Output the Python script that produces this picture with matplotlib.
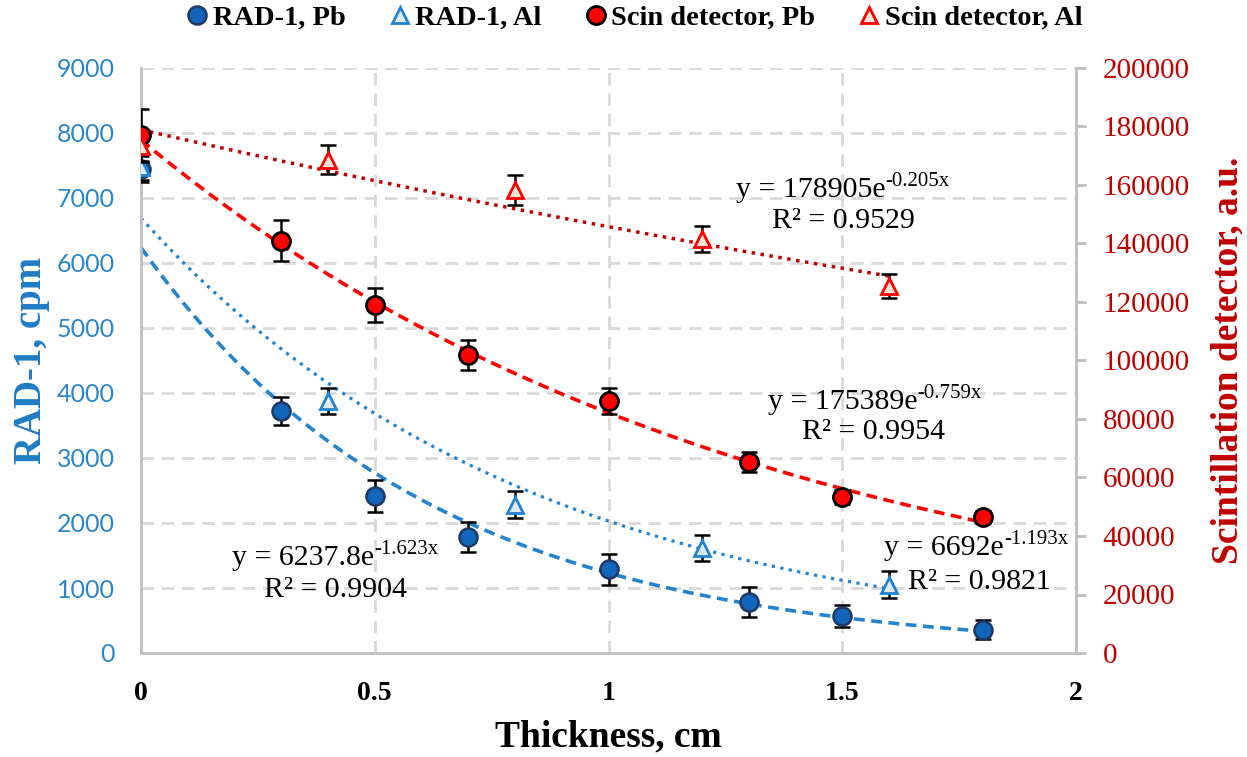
import numpy as np
import matplotlib
matplotlib.use("Agg")
import matplotlib.pyplot as plt

plt.rcParams['font.family'] = ['Liberation Serif', 'DejaVu Serif']

# ---------------- data ----------------
x_pb = [0, 0.3, 0.5, 0.7, 1.0, 1.3, 1.5, 1.8]
x_al = [0, 0.4, 0.8, 1.2, 1.6]

rad_pb = [7450, 3720, 2415, 1785, 1285, 785, 575, 360]
rad_pb_err = [200, 220, 250, 230, 240, 230, 170, 150]
rad_al = [7480, 3880, 2280, 1620, 1050]
rad_al_err = [200, 200, 210, 200, 210]

scin_pb = [177000, 140900, 119000, 101900, 86200, 65300, 53300, 46500]
scin_pb_err = [9000, 7000, 5800, 5000, 4400, 3400, 2500, 2000]
scin_al = [173300, 168600, 158300, 141500, 125500]
scin_al_err = [5000, 5000, 5000, 4500, 4000]

# exponential trend-line coefficients shown on the chart
fit_rad_pb = (6237.8, -1.623)
fit_rad_al = (6692, -1.193)
fit_scin_pb = (175389, -0.759)
fit_scin_al = (178905, -0.205)

legend_labels = ["RAD-1, Pb", "RAD-1, Al", "Scin detector, Pb", "Scin detector, Al"]
x_ticks = [0, 0.5, 1, 1.5, 2]
x_tick_labels = ["0", "0.5", "1", "1.5", "2"]

# ---------------- style ----------------
BLUE = '#2483CF'
BLUE_TXT = '#2A86C9'
NAVY = '#1F3864'
BLUE_FILL = '#1166BB'
RED = '#FF0000'
DARKRED = '#C00000'
GRID = '#D9D9D9'
SPINE = '#BFBFBF'

W, H = 1247, 757
fig = plt.figure(figsize=(W/100, H/100), dpi=100)
ax = fig.add_axes([141/W, 1-653/H, (1076-141)/W, (653-68)/H])
ax2 = ax.twinx()

ax.set_xlim(0, 2)
ax.set_ylim(0, 9000)
ax2.set_ylim(0, 200000)

# grid
for yv in range(1000, 9001, 1000):
    ax.axhline(yv, color=GRID, lw=2, dashes=(4.5, 2.8), zorder=0)
for xv in [0.5, 1, 1.5]:
    ax.axvline(xv, color=GRID, lw=2, dashes=(4.5, 2.8), zorder=0)

# trend lines
def trend(a, fit, xmax, **kw):
    xs = np.linspace(0, xmax, 200)
    a.plot(xs, fit[0]*np.exp(fit[1]*xs), **kw)

trend(ax, fit_rad_pb, max(x_pb), color=BLUE, lw=2.6, dashes=(3, 1.8), zorder=2)
trend(ax, fit_rad_al, max(x_al), color=BLUE, lw=2.3, dashes=(1, 1.7), zorder=2)
trend(ax2, fit_scin_pb, max(x_pb), color=RED, lw=2.6, dashes=(3, 1.8), zorder=2)
trend(ax2, fit_scin_al, max(x_al), color=DARKRED, lw=2.5, dashes=(1, 1.6), zorder=2)

ekw = dict(fmt='none', ecolor='black', elinewidth=1.8, capsize=6, capthick=1.8, zorder=3)
ax.errorbar(x_pb, rad_pb, yerr=rad_pb_err, **ekw)
ax.errorbar(x_al, rad_al, yerr=rad_al_err, **ekw)
ax2.errorbar(x_pb, scin_pb, yerr=scin_pb_err, **ekw)
ax2.errorbar(x_al, scin_al, yerr=scin_al_err, **ekw)

h1, = ax.plot(x_pb, rad_pb, 'o', ms=13, mfc=BLUE_FILL, mec=NAVY, mew=1.8, ls='none', zorder=4)
h2, = ax.plot(x_al, rad_al, '^', ms=12, mfc='#DEEBF7', mec=BLUE, mew=2, ls='none', zorder=4)
h3, = ax2.plot(x_pb, scin_pb, 'o', ms=13, mfc=RED, mec='black', mew=2, ls='none', zorder=4)
h4, = ax2.plot(x_al, scin_al, '^', ms=12, mfc='#FBE5D6', mec=RED, mew=2, ls='none', zorder=4)

# axes appearance
for a in (ax, ax2):
    a.spines['top'].set_visible(False)
    for s in ('left', 'right', 'bottom'):
        a.spines[s].set_color(SPINE)
        a.spines[s].set_linewidth(2)
ax.spines['right'].set_visible(False)
ax2.spines['left'].set_visible(False)
ax2.spines['bottom'].set_visible(False)

ax.set_xticks(x_ticks)
ax.set_xticklabels(x_tick_labels)
ax.set_yticks(range(0, 9001, 1000))
ax.tick_params(axis='x', length=0, pad=20, labelsize=20)
for t in ax.get_xticklabels():
    t.set_fontweight('bold')
ax.tick_params(axis='y', length=0, pad=19, labelsize=18, labelcolor=BLUE_TXT)
for t in ax.get_yticklabels():
    t.set_fontfamily(['Lato', 'DejaVu Sans'])

ax2.set_yticks(range(0, 200001, 20000))
ax2.tick_params(axis='y', length=7, width=2, color=SPINE, direction='out', pad=12,
                labelsize=21, labelcolor=DARKRED)

ax.set_xlabel("Thickness, cm", fontsize=27, fontweight='bold', labelpad=10)
ax.set_ylabel("RAD-1, cpm", fontsize=28, fontweight='bold', color='#1F7BC4', labelpad=5)
ax2.set_ylabel("Scintillation detector, a.u.", fontsize=27, fontweight='bold', color=DARKRED,
               labelpad=15)

ax2.set_zorder(ax.get_zorder() + 1)
ax2.patch.set_visible(False)

# equations: base text right-aligned at the join point, superscript left-aligned after it
def eq(px_join, py, base, sup, r2, px_r2, py_r2):
    fig.text(px_join/W, 1-py/H, base, ha='right', va='center', fontsize=21.5)
    fig.text(px_join/W, 1-(py-8)/H, sup, ha='left', va='center', fontsize=15)
    fig.text(px_r2/W, 1-py_r2/H, r2, ha='center', va='center', fontsize=21.5)

eq(885, 190, "y = 178905e", "-0.205x", "R² = 0.9529", 843, 221)
eq(917, 402, "y = 175389e", "-0.759x", "R² = 0.9954", 873, 432)
eq(374, 558, "y = 6237.8e", "-1.623x", "R² = 0.9904", 335, 590)
eq(1004, 548, "y = 6692e", "-1.193x", "R² = 0.9821", 979, 582)

fig.legend([h1, h2, h3, h4], legend_labels, loc='center', bbox_to_anchor=(0.508, 1-18/H),
           ncol=4, frameon=False, handletextpad=0.1, columnspacing=1.45, handlelength=0.9,
           prop={'weight': 'bold', 'size': 20.5}, markerscale=1.0)

fig.savefig("out.png", dpi=100)
